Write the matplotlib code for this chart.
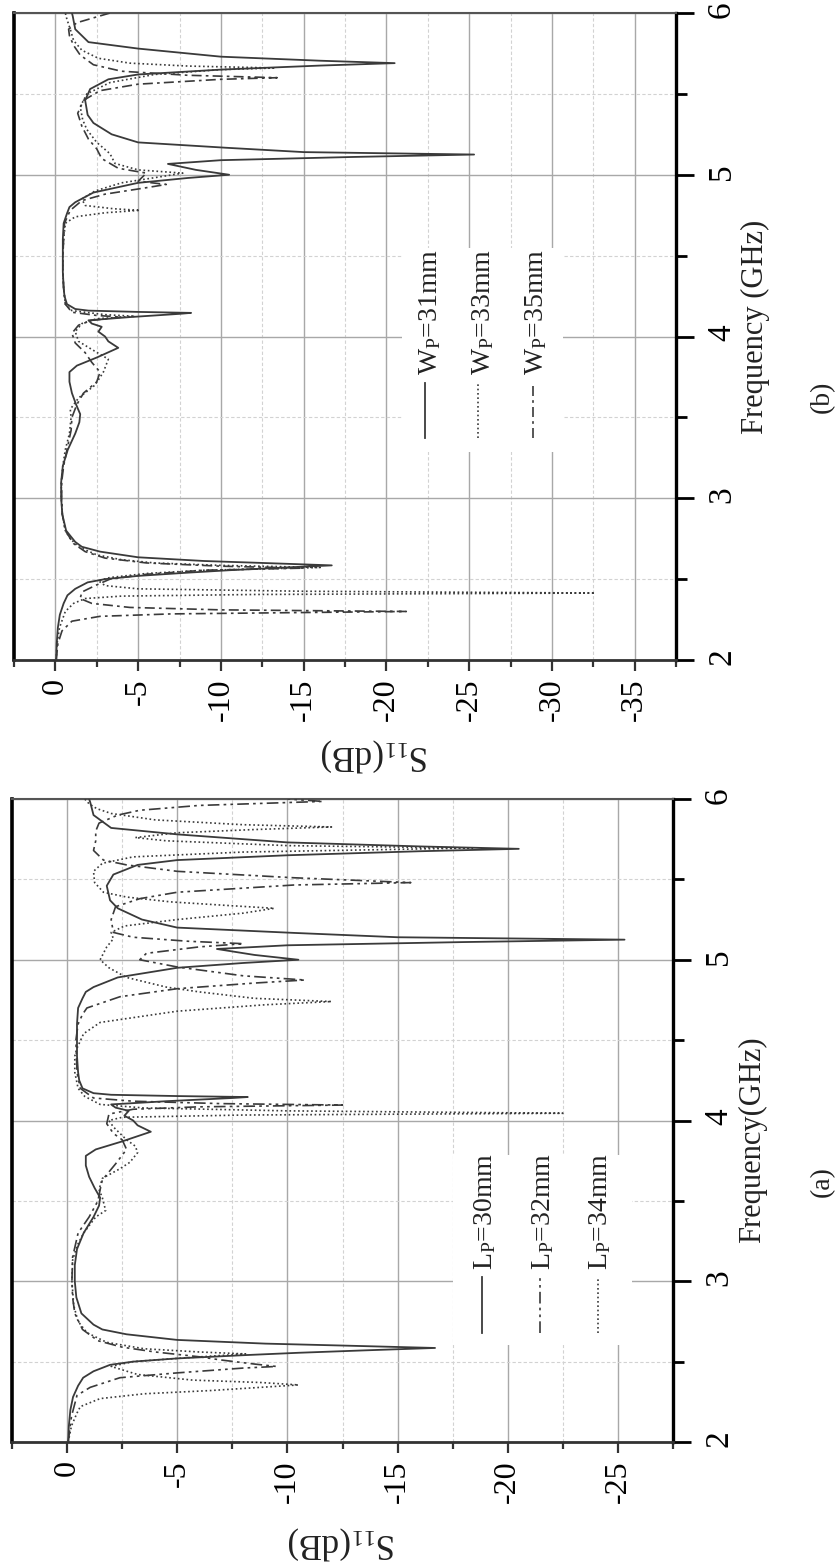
import matplotlib
matplotlib.use('Agg')
import matplotlib.pyplot as plt
from matplotlib.ticker import MultipleLocator, FixedLocator, FixedFormatter
from matplotlib.patches import Rectangle

plt.rcParams['font.family'] = ['Liberation Serif', 'DejaVu Serif']
plt.rcParams['mathtext.fontset'] = 'custom'
plt.rcParams['mathtext.rm'] = 'Liberation Serif'
plt.rcParams['mathtext.it'] = 'Liberation Serif:italic'
plt.rcParams['mathtext.bf'] = 'Liberation Serif:bold'
plt.rcParams['axes.unicode_minus'] = False

# ---------------- data ----------------
# reference design (solid curve, shared by both panels)
ref_f = [2.00, 2.10, 2.20, 2.28, 2.35, 2.40, 2.44, 2.48, 2.50, 2.52, 2.54, 2.555, 2.57, 2.585, 2.60, 2.612,
         2.635, 2.67, 2.70, 2.73, 2.80, 2.90, 3.00, 3.10, 3.20, 3.30, 3.40, 3.47, 3.52, 3.58, 3.65, 3.72,
         3.78, 3.82, 3.87, 3.93, 3.97, 4.00, 4.03, 4.06, 4.08, 4.10, 4.12, 4.14, 4.146, 4.152, 4.16, 4.17,
         4.20, 4.25, 4.30, 4.40, 4.50, 4.60, 4.70, 4.76, 4.80, 4.83, 4.89, 4.95, 4.98, 5.00, 5.03, 5.067,
         5.09, 5.11, 5.125, 5.14, 5.167, 5.20, 5.25, 5.32, 5.37, 5.46, 5.53, 5.59, 5.62, 5.65, 5.675, 5.69,
         5.705, 5.73, 5.78, 5.82, 5.90, 5.98, 6.00]
ref_s = [-0.05, -0.08, -0.15, -0.27, -0.5, -0.73, -1.2, -1.95, -3.0, -5.0, -8.0, -10.5, -13.5, -16.7, -12.5, -9.0,
         -5.0, -2.7, -1.6, -1.2, -0.65, -0.42, -0.35, -0.35, -0.45, -0.75, -1.2, -1.45, -1.5, -1.25, -1.0, -0.85,
         -0.85, -1.3, -2.5, -3.8, -3.2, -3.0, -2.6, -2.8, -2.2, -2.0, -4.5, -7.5, -8.2, -5.0, -2.0, -1.2,
         -0.7, -0.55, -0.5, -0.45, -0.45, -0.45, -0.5, -0.7, -0.85, -1.2, -2.3, -5.0, -8.0, -10.5, -8.5, -6.8,
         -10.0, -18.0, -25.3, -15.0, -10.3, -5.0, -3.4, -2.3, -1.95, -1.8, -2.1, -3.2, -5.0, -10.0, -16.0, -20.5,
         -16.0, -10.0, -5.0, -2.0, -1.2, -1.05, -1.0]

# panel (a): L_P = 32 mm (dash-dot-dot)
lp32_f = [2.00, 2.16, 2.29, 2.34, 2.40, 2.43, 2.46, 2.47, 2.485, 2.51, 2.53, 2.56, 2.59, 2.63, 2.70, 2.80,
          2.90, 3.00, 3.15, 3.30, 3.40, 3.50, 3.57, 3.63, 3.68, 3.73, 3.82, 3.88, 3.92, 3.98, 4.04, 4.07,
          4.085, 4.096, 4.105, 4.12, 4.14, 4.20, 4.30, 4.50, 4.60, 4.66, 4.70, 4.77, 4.82, 4.855, 4.874, 4.90,
          4.955, 5.00, 5.04, 5.08, 5.10, 5.115, 5.14, 5.17, 5.25, 5.33, 5.38, 5.42, 5.465, 5.48, 5.51, 5.55,
          5.59, 5.62, 5.68, 5.74, 5.80, 5.85, 5.90, 5.93, 5.96, 5.985, 6.00]
lp32_s = [-0.05, -0.2, -0.45, -1.05, -2.4, -5.0, -8.0, -9.5, -8.5, -7.0, -6.0, -4.0, -2.5, -1.4, -0.7, -0.35,
          -0.25, -0.22, -0.25, -0.5, -1.0, -1.4, -1.5, -1.6, -1.9, -2.2, -2.7, -2.5, -2.1, -1.8, -1.9, -3.0,
          -6.0, -12.5, -7.0, -3.0, -1.2, -0.6, -0.45, -0.4, -0.5, -0.7, -0.9, -2.4, -5.0, -8.5, -10.8, -8.0,
          -5.0, -3.3, -3.6, -6.0, -8.0, -5.5, -3.0, -2.1, -2.0, -2.2, -3.3, -5.0, -10.3, -15.6, -10.3, -5.0,
          -2.7, -1.65, -1.2, -1.3, -1.3, -1.45, -2.3, -3.3, -6.0, -11.6, -10.0]

# panel (a): L_P = 34 mm (dotted)
lp34_f = [2.00, 2.10, 2.18, 2.22, 2.27, 2.30, 2.32, 2.355, 2.37, 2.385, 2.42, 2.47, 2.50, 2.525, 2.548, 2.56,
          2.58, 2.62, 2.68, 2.75, 2.85, 3.00, 3.13, 3.22, 3.30, 3.40, 3.44, 3.52, 3.57, 3.64, 3.70, 3.74,
          3.80, 3.84, 3.88, 3.96, 4.00, 4.02, 4.034, 4.045, 4.06, 4.078, 4.10, 4.15, 4.20, 4.30, 4.40, 4.45,
          4.54, 4.61, 4.68, 4.72, 4.74, 4.76, 4.80, 4.83, 4.89, 4.95, 5.00, 5.08, 5.13, 5.17, 5.21, 5.25,
          5.29, 5.32, 5.34, 5.36, 5.39, 5.42, 5.48, 5.55, 5.60, 5.64, 5.67, 5.695, 5.71, 5.74, 5.76, 5.79,
          5.81, 5.826, 5.84, 5.87, 5.91, 5.94, 5.97, 6.00]
lp34_s = [-0.05, -0.2, -0.45, -0.6, -1.5, -3.5, -6.5, -10.5, -8.8, -5.7, -3.2, -2.0, -3.0, -5.5, -8.1, -6.0,
          -3.5, -1.8, -0.9, -0.5, -0.3, -0.22, -0.25, -0.45, -0.75, -1.3, -1.75, -1.6, -1.45, -1.6, -2.4, -2.85,
          -3.2, -3.1, -2.7, -2.1, -1.9, -2.5, -8.0, -22.5, -10.0, -3.5, -1.5, -0.8, -0.5, -0.35, -0.35, -0.45,
          -0.75, -1.5, -5.0, -9.0, -12.0, -8.5, -6.0, -4.5, -2.7, -1.9, -1.5, -1.8, -2.1, -2.0, -2.6, -5.0,
          -8.0, -9.4, -7.0, -4.7, -2.7, -1.65, -1.25, -1.2, -1.6, -3.0, -8.0, -18.4, -10.0, -4.5, -3.1, -5.0,
          -8.5, -12.0, -8.0, -4.0, -2.0, -1.35, -1.0, -0.8]

# panel (b): W_P = 33 mm (dotted)
wp33_f = [2.00, 2.10, 2.20, 2.30, 2.35, 2.38, 2.395, 2.405, 2.414, 2.425, 2.44, 2.46, 2.49, 2.51, 2.535, 2.555,
          2.572, 2.585, 2.60, 2.62, 2.65, 2.70, 2.75, 2.80, 2.90, 3.00, 3.10, 3.20, 3.30, 3.40, 3.50, 3.55,
          3.62, 3.70, 3.78, 3.86, 3.92, 3.97, 4.03, 4.08, 4.11, 4.125, 4.135, 4.16, 4.20, 4.30, 4.40, 4.50,
          4.60, 4.70, 4.74, 4.765, 4.78, 4.79, 4.81, 4.85, 4.90, 4.95, 4.99, 5.01, 5.03, 5.07, 5.13, 5.20,
          5.28, 5.34, 5.42, 5.50, 5.57, 5.62, 5.65, 5.66, 5.672, 5.69, 5.72, 5.77, 5.83, 5.90, 5.96, 6.00]
wp33_s = [-0.05, -0.1, -0.25, -0.6, -1.1, -1.8, -4.0, -12.0, -32.6, -15.0, -5.0, -3.0, -2.6, -3.3, -5.5, -9.0,
          -16.0, -10.0, -6.0, -4.0, -2.5, -1.4, -0.9, -0.6, -0.42, -0.36, -0.36, -0.45, -0.6, -0.85, -0.95, -0.9,
          -1.4, -2.4, -2.9, -3.2, -2.2, -1.4, -1.2, -1.6, -2.5, -4.8, -3.0, -1.0, -0.6, -0.5, -0.45, -0.45,
          -0.5, -0.6, -1.2, -3.0, -5.1, -3.5, -1.8, -1.6, -2.4, -4.0, -6.5, -7.7, -5.0, -3.6, -3.3, -2.5,
          -1.9, -1.65, -1.5, -1.9, -3.3, -6.0, -10.0, -13.3, -8.0, -4.5, -2.6, -1.6, -1.1, -0.9, -0.7, -0.6]

# panel (b): W_P = 35 mm (dash-dot)
wp35_f = [2.00, 2.10, 2.18, 2.24, 2.27, 2.285, 2.30, 2.31, 2.325, 2.35, 2.38, 2.42, 2.46, 2.50, 2.53, 2.555,
          2.568, 2.58, 2.60, 2.63, 2.67, 2.72, 2.80, 2.90, 3.00, 3.10, 3.20, 3.30, 3.42, 3.50, 3.58, 3.65,
          3.72, 3.78, 3.84, 3.90, 3.96, 4.02, 4.07, 4.10, 4.12, 4.13, 4.15, 4.20, 4.30, 4.40, 4.50, 4.60,
          4.70, 4.78, 4.84, 4.88, 4.92, 4.94, 4.96, 4.99, 5.01, 5.04, 5.10, 5.16, 5.22, 5.30, 5.38, 5.46,
          5.52, 5.56, 5.59, 5.60, 5.615, 5.64, 5.68, 5.74, 5.80, 5.86, 5.90, 5.94, 5.97, 6.00]
wp35_s = [-0.05, -0.15, -0.4, -1.0, -2.7, -7.0, -21.2, -10.0, -4.5, -2.2, -1.5, -1.6, -2.4, -3.3, -5.5, -9.0,
          -15.0, -10.0, -5.5, -3.0, -1.8, -1.1, -0.6, -0.42, -0.38, -0.38, -0.5, -0.7, -0.95, -1.0, -1.3, -1.7,
          -2.5, -2.7, -2.2, -1.8, -1.2, -1.0, -1.4, -2.2, -4.0, -2.5, -1.0, -0.6, -0.5, -0.45, -0.45, -0.5,
          -0.55, -0.9, -1.6, -3.0, -5.5, -6.7, -5.0, -5.3, -5.5, -3.8, -2.8, -2.5, -2.0, -1.6, -1.35, -1.7,
          -2.7, -5.0, -10.0, -13.4, -8.0, -4.0, -2.3, -1.5, -1.1, -0.85, -0.8, -1.3, -2.3, -3.3]

labels_a = [r'L$_\mathrm{P}$=30mm', r'L$_\mathrm{P}$=32mm', r'L$_\mathrm{P}$=34mm']
labels_b = [r'W$_\mathrm{P}$=31mm', r'W$_\mathrm{P}$=33mm', r'W$_\mathrm{P}$=35mm']
freq_ticks = [2, 3, 4, 5, 6]
s_ticks_a = [0, -5, -10, -15, -20, -25]
s_ticks_b = [0, -5, -10, -15, -20, -25, -30, -35]

# ---------------- styles ----------------
LC = '#3a3a3a'
SOLID = dict(color=LC, lw=1.3, ls='-')
DOT = dict(color=LC, lw=1.2, ls=(0, (1, 1.6)))
DASHDOT = dict(color=LC, lw=1.2, ls=(0, (6, 2.5, 1.6, 2.5)))
DASHDOTDOT = dict(color=LC, lw=1.2, ls=(0, (7, 2.5, 1.6, 2.5, 1.6, 2.5)))

W, H = 838, 1567
fig = plt.figure(figsize=(W / 100, H / 100), dpi=100)


def px_axes(l, t, r, b):
    return fig.add_axes([l / W, 1 - b / H, (r - l) / W, (b - t) / H])


def setup(ax, smin, majors):
    ax.set_xlim(2.5, smin)
    ax.set_ylim(2, 6)
    minors = [2.5 - 5 * i for i in range(int((2.5 - smin) / 5) + 1)]
    ax.xaxis.set_major_locator(FixedLocator(majors))
    ax.xaxis.set_major_formatter(FixedFormatter([str(m) for m in majors]))
    ax.xaxis.set_minor_locator(FixedLocator(minors))
    ax.yaxis.set_major_locator(FixedLocator(freq_ticks))
    ax.yaxis.set_major_formatter(FixedFormatter([str(t) for t in freq_ticks]))
    ax.yaxis.set_minor_locator(MultipleLocator(0.5))
    ax.yaxis.tick_right()
    ax.set_axisbelow(True)
    ax.grid(which='major', color='#a8a8a8', lw=1.0, ls='-')
    ax.grid(which='minor', color='#d2d2d2', lw=0.8, ls=(0, (3, 2)))
    ax.tick_params(axis='x', which='major', direction='out', length=8, width=1.6,
                   color='#333333', labelsize=23, labelrotation=90, pad=5)
    ax.tick_params(axis='x', which='minor', direction='out', length=5, width=1.6, color='#333333')
    ax.tick_params(axis='y', which='major', direction='out', length=13, width=2.0,
                   color='black', labelsize=24, labelrotation=90, pad=9)
    ax.tick_params(axis='y', which='minor', direction='out', length=8, width=2.0, color='black')
    ax.spines['left'].set_linewidth(2.6)
    ax.spines['left'].set_color('black')
    ax.spines['right'].set_linewidth(2.4)
    ax.spines['right'].set_color('black')
    ax.spines['bottom'].set_linewidth(2.0)
    ax.spines['bottom'].set_color('#333333')
    ax.spines['top'].set_linewidth(1.5)
    ax.spines['top'].set_color('#555555')


def legend(ax, box, styles, labels, hx, hy0, hy1, tx, ty):
    ax.add_patch(Rectangle((box[0], box[1]), box[2] - box[0], box[3] - box[1],
                           transform=ax.transAxes, facecolor='white', edgecolor='none', zorder=2))
    for st, lab, x, t in zip(styles, labels, hx, tx):
        ax.plot([x, x], [hy0, hy1], transform=ax.transAxes, zorder=3, **st)
        ax.text(t, ty, lab, transform=ax.transAxes, rotation=90, rotation_mode='anchor',
                ha='left', va='baseline', fontsize=20, color='#222222', zorder=3)


# ---------------- panel (b) (top) ----------------
axb = px_axes(14, 13, 676, 660)
setup(axb, -37.5, s_ticks_b)
axb.plot(ref_s, ref_f, zorder=4, **SOLID)
axb.plot(wp33_s, wp33_f, zorder=4, **DOT)
axb.plot(wp35_s, wp35_f, zorder=4, **DASHDOT)
legend(axb, (0.586, 0.321, 0.829, 0.637), [SOLID, DOT, DASHDOT], labels_b,
       [0.621, 0.701, 0.784], 0.343, 0.428, [0.639, 0.719, 0.799], 0.4405)

# ---------------- panel (a) (bottom) ----------------
axa = px_axes(12, 799, 673, 1442)
setup(axa, -27.5, s_ticks_a)
axa.plot(ref_s, ref_f, zorder=4, **SOLID)
axa.plot(lp32_s, lp32_f, zorder=4, **DASHDOTDOT)
axa.plot(lp34_s, lp34_f, zorder=4, **DOT)
legend(axa, (0.667, 0.151, 0.938, 0.446), [SOLID, DASHDOTDOT, DOT], labels_a,
       [0.711, 0.799, 0.886], 0.1695, 0.2566, [0.726, 0.814, 0.901], 0.2675)

# ---------------- axis titles ----------------
fig.text(763 / W, 1 - 327 / H, 'Frequency (GHz)', rotation=90, rotation_mode='anchor',
         ha='center', va='baseline', fontsize=22, color='#222222')
fig.text(760 / W, 1 - 1140 / H, 'Frequency(GHz)', rotation=90, rotation_mode='anchor',
         ha='center', va='baseline', fontsize=22, color='#222222')
fig.text(375 / W, 1 - 755 / H, r'S$_{11}$(dB)', rotation=180, ha='center', va='center',
         fontsize=25, color='#222222')
fig.text(342 / W, 1 - 1543 / H, r'S$_{11}$(dB)', rotation=180, ha='center', va='center',
         fontsize=25, color='#222222')
fig.text(822 / W, 1 - 397 / H, '(b)', rotation=90, ha='center', va='center', fontsize=20, color='#222222')
fig.text(822 / W, 1 - 1182 / H, '(a)', rotation=90, ha='center', va='center', fontsize=20, color='#222222')

fig.savefig('out.png', dpi=100, facecolor='white')
